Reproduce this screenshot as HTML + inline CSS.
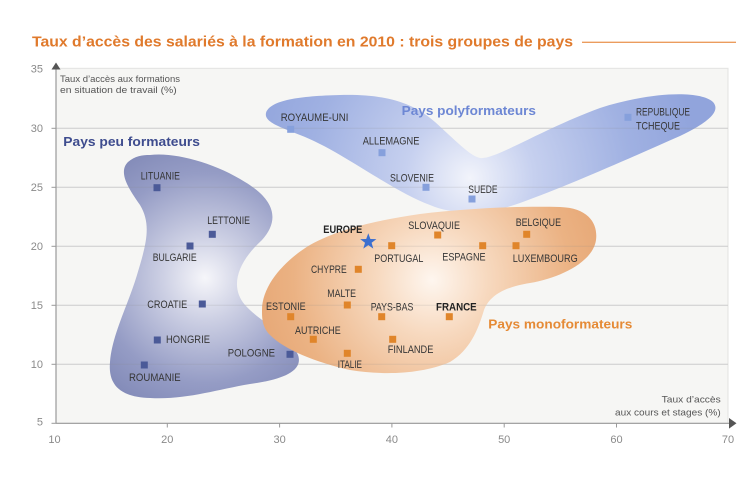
<!DOCTYPE html>
<html>
<head>
<meta charset="utf-8">
<style>
  html, body { margin: 0; padding: 0; background: #ffffff; }
  body { width: 749px; height: 500px; overflow: hidden; }
  svg { display: block; }
  text { font-family: "Liberation Sans", "DejaVu Sans", sans-serif; }
  .lbl { font-size: 10.8px; fill: #363636; }
  .tick { font-size: 11px; fill: #8a8a8a; }
  .ax { font-size: 9.5px; fill: #555; }
</style>
</head>
<body>
<svg width="749" height="500" viewBox="0 0 749 500" xmlns="http://www.w3.org/2000/svg">
  <defs>
    <radialGradient id="gDark" gradientUnits="userSpaceOnUse" cx="205" cy="278" r="140">
      <stop offset="0" stop-color="#f6f6fa"/>
      <stop offset="0.3" stop-color="#cdd0e4"/>
      <stop offset="0.75" stop-color="#959cc5"/>
      <stop offset="1" stop-color="#848cb9"/>
    </radialGradient>
    <radialGradient id="gBlue" gradientUnits="userSpaceOnUse" cx="470" cy="178" r="230">
      <stop offset="0" stop-color="#f2f4fb"/>
      <stop offset="0.28" stop-color="#c6d0ef"/>
      <stop offset="0.7" stop-color="#a0b1e2"/>
      <stop offset="1" stop-color="#91a4dc"/>
    </radialGradient>
    <radialGradient id="gOrange" gradientUnits="userSpaceOnUse" cx="432" cy="280" r="185">
      <stop offset="0" stop-color="#fef6ef"/>
      <stop offset="0.3" stop-color="#f7d9bf"/>
      <stop offset="0.75" stop-color="#ebb283"/>
      <stop offset="1" stop-color="#e6a674"/>
    </radialGradient>
  </defs>

  <!-- Title -->
  <text x="32" y="46.5" font-size="14.5" font-weight="bold" fill="#e07a2c" textLength="541" lengthAdjust="spacingAndGlyphs">Taux d’accès des salariés à la formation en 2010 : trois groupes de pays</text>
  <line x1="582" y1="42.3" x2="736" y2="42.3" stroke="#eb9c5e" stroke-width="1.4"/>

  <!-- Plot panel -->
  <rect x="56" y="68.3" width="672" height="355" fill="#f6f6f4" stroke="#e3e3e1" stroke-width="1"/>

  <!-- Grid -->
  <g stroke="#dcdcdc" stroke-width="1">
    <line x1="56" y1="128.3" x2="728" y2="128.3"/>
    <line x1="56" y1="187.3" x2="728" y2="187.3"/>
    <line x1="56" y1="246.3" x2="728" y2="246.3"/>
    <line x1="56" y1="305.3" x2="728" y2="305.3"/>
    <line x1="56" y1="364.3" x2="728" y2="364.3"/>
  </g>

  <!-- Blobs -->
  <path fill="url(#gDark)" d="M 150,155
    C 175,152 215,163 245,182
    C 275,200 280,220 262,240
    C 240,260 228,285 245,305
    C 260,322 290,335 298,355
    C 304,372 280,380 250,384
    C 215,390 185,400 150,398
    C 120,397 108,385 110,362
    C 112,335 128,305 137,275
    C 146,245 152,225 140,205
    C 128,188 118,172 128,162
    C 135,156 142,155 150,155 Z"/>

  <path fill="url(#gBlue)" d="M 266,113
    C 270,100 300,96 340,95
    C 380,94 410,100 435,122
    C 455,140 470,156 480,158
    C 495,160 540,130 600,108
    C 650,92 700,90 713,102
    C 722,112 705,124 680,136
    C 630,158 570,185 520,203
    C 490,214 455,216 430,205
    C 390,190 340,150 300,135
    C 280,127 264,122 266,113 Z"/>

  <path fill="url(#gOrange)" d="M 262,310
    C 262,285 285,260 310,245
    C 340,228 380,220 420,214
    C 470,208 520,206 560,207
    C 590,208 598,225 596,240
    C 593,262 560,278 530,283
    C 505,287 490,295 484,310
    C 478,330 470,350 450,362
    C 420,375 380,375 350,370
    C 315,362 285,350 270,335
    C 262,327 262,318 262,310 Z"/>

  <!-- faint grid over blobs -->
  <g stroke="#8a8a8a" stroke-opacity="0.18" stroke-width="1">
    <line x1="56" y1="128.3" x2="728" y2="128.3"/>
    <line x1="56" y1="187.3" x2="728" y2="187.3"/>
    <line x1="56" y1="246.3" x2="728" y2="246.3"/>
    <line x1="56" y1="305.3" x2="728" y2="305.3"/>
    <line x1="56" y1="364.3" x2="728" y2="364.3"/>
  </g>

  <!-- Axes -->
  <line x1="56" y1="423.3" x2="56" y2="68" stroke="#9a9a9a" stroke-width="1.2"/>
  <line x1="56" y1="423.3" x2="729" y2="423.3" stroke="#9a9a9a" stroke-width="1.2"/>
  <polygon points="51.5,69.5 60.5,69.5 56,62.5" fill="#555"/>
  <polygon points="729,418 736.5,423.3 729,428.6" fill="#555"/>

  <!-- Y ticks -->
  <g stroke="#9a9a9a" stroke-width="1">
    <line x1="51.5" y1="423.3" x2="56" y2="423.3"/>
    <line x1="51.5" y1="364.3" x2="56" y2="364.3"/>
    <line x1="51.5" y1="305.3" x2="56" y2="305.3"/>
    <line x1="51.5" y1="246.3" x2="56" y2="246.3"/>
    <line x1="51.5" y1="187.3" x2="56" y2="187.3"/>
    <line x1="51.5" y1="128.3" x2="56" y2="128.3"/>
  </g>
  <g class="tick" text-anchor="end">
    <text x="43" y="425.5">5</text>
    <text x="43" y="368">10</text>
    <text x="43" y="309">15</text>
    <text x="43" y="250">20</text>
    <text x="43" y="191">25</text>
    <text x="43" y="132">30</text>
    <text x="43" y="72.5">35</text>
  </g>

  <!-- X ticks -->
  <g stroke="#9a9a9a" stroke-width="1">
    <line x1="167.3" y1="423.3" x2="167.3" y2="427.5"/>
    <line x1="279.6" y1="423.3" x2="279.6" y2="427.5"/>
    <line x1="391.9" y1="423.3" x2="391.9" y2="427.5"/>
    <line x1="504.2" y1="423.3" x2="504.2" y2="427.5"/>
    <line x1="616.5" y1="423.3" x2="616.5" y2="427.5"/>
  </g>
  <g class="tick" text-anchor="middle">
    <text x="54.5" y="443">10</text>
    <text x="167.3" y="443">20</text>
    <text x="279.6" y="443">30</text>
    <text x="391.9" y="443">40</text>
    <text x="504.2" y="443">50</text>
    <text x="616.5" y="443">60</text>
    <text x="728" y="443">70</text>
  </g>

  <!-- Axis titles -->
  <text class="ax" x="60" y="82" textLength="120" lengthAdjust="spacingAndGlyphs">Taux d’accès aux formations</text>
  <text class="ax" x="60" y="93" textLength="116.7" lengthAdjust="spacingAndGlyphs">en situation de travail (%)</text>
  <text class="ax" x="661.7" y="402.5" textLength="59" lengthAdjust="spacingAndGlyphs">Taux d’accès</text>
  <text class="ax" x="615" y="415.5" textLength="105.7" lengthAdjust="spacingAndGlyphs">aux cours et stages (%)</text>

  <!-- Group titles -->
  <text x="63.3" y="146" font-size="13" font-weight="bold" fill="#3e4c8e" textLength="136.7" lengthAdjust="spacingAndGlyphs">Pays peu formateurs</text>
  <text x="401.7" y="115" font-size="13" font-weight="bold" fill="#6d87d4" textLength="134.3" lengthAdjust="spacingAndGlyphs">Pays polyformateurs</text>
  <text x="488.3" y="328.5" font-size="13" font-weight="bold" fill="#e58a35" textLength="144" lengthAdjust="spacingAndGlyphs">Pays monoformateurs</text>

  <!-- Markers: dark blue -->
  <g fill="#4b5a98">
    <rect x="153.5" y="184.2" width="7" height="7"/>
    <rect x="208.8" y="230.8" width="7" height="7"/>
    <rect x="186.5" y="242.5" width="7" height="7"/>
    <rect x="198.8" y="300.5" width="7" height="7"/>
    <rect x="153.8" y="336.5" width="7" height="7"/>
    <rect x="140.8" y="361.5" width="7" height="7"/>
    <rect x="286.5" y="350.8" width="7" height="7"/>
  </g>
  <!-- Markers: light blue -->
  <g fill="#86a0dc">
    <rect x="287.2" y="125.8" width="7" height="7"/>
    <rect x="378.5" y="149.2" width="7" height="7"/>
    <rect x="422.5" y="183.8" width="7" height="7"/>
    <rect x="468.5" y="195.5" width="7" height="7"/>
    <rect x="624.5" y="113.8" width="7" height="7"/>
  </g>
  <!-- Markers: orange -->
  <g fill="#e0852a">
    <rect x="388.2" y="242.2" width="7" height="7"/>
    <rect x="434.2" y="231.5" width="7" height="7"/>
    <rect x="479.2" y="242.2" width="7" height="7"/>
    <rect x="523.2" y="230.8" width="7" height="7"/>
    <rect x="512.5" y="242.2" width="7" height="7"/>
    <rect x="354.8" y="265.8" width="7" height="7"/>
    <rect x="343.8" y="301.5" width="7" height="7"/>
    <rect x="287.2" y="313.2" width="7" height="7"/>
    <rect x="378.2" y="313.2" width="7" height="7"/>
    <rect x="445.8" y="313.2" width="7" height="7"/>
    <rect x="309.8" y="335.8" width="7" height="7"/>
    <rect x="389.2" y="335.8" width="7" height="7"/>
    <rect x="343.8" y="349.8" width="7" height="7"/>
  </g>
  <!-- Europe star -->
  <polygon fill="#3c6fcf" points="368.3,233.2 370.4,239 376.4,239.1 371.6,242.8 373.3,248.6 368.3,245.1 363.3,248.6 365,242.8 360.2,239.1 366.2,239"/>

  <!-- Labels: peu formateurs -->
  <g class="lbl">
    <text x="140.7" y="179.6" textLength="39.3" lengthAdjust="spacingAndGlyphs">LITUANIE</text>
    <text x="207.3" y="223.9" textLength="42.7" lengthAdjust="spacingAndGlyphs">LETTONIE</text>
    <text x="152.7" y="261.2" textLength="44" lengthAdjust="spacingAndGlyphs">BULGARIE</text>
    <text x="147.3" y="308.2" textLength="40" lengthAdjust="spacingAndGlyphs">CROATIE</text>
    <text x="166" y="342.9" textLength="44" lengthAdjust="spacingAndGlyphs">HONGRIE</text>
    <text x="129" y="381.2" textLength="51.7" lengthAdjust="spacingAndGlyphs">ROUMANIE</text>
    <text x="227.7" y="356.6" textLength="47.3" lengthAdjust="spacingAndGlyphs">POLOGNE</text>

    <!-- polyformateurs -->
    <text x="280.7" y="121.2" textLength="67.7" lengthAdjust="spacingAndGlyphs">ROYAUME-UNI</text>
    <text x="362.7" y="144.6" textLength="56.7" lengthAdjust="spacingAndGlyphs">ALLEMAGNE</text>
    <text x="390" y="181.6" textLength="44" lengthAdjust="spacingAndGlyphs">SLOVENIE</text>
    <text x="468.3" y="193.2" textLength="29.3" lengthAdjust="spacingAndGlyphs">SUEDE</text>
    <text x="636" y="115.6" textLength="54" lengthAdjust="spacingAndGlyphs">REPUBLIQUE</text>
    <text x="636" y="129.6" textLength="44" lengthAdjust="spacingAndGlyphs">TCHEQUE</text>

    <!-- monoformateurs -->
    <text x="323.3" y="233.2" textLength="39" lengthAdjust="spacingAndGlyphs" font-weight="bold" fill="#222">EUROPE</text>
    <text x="408.3" y="228.9" textLength="51.7" lengthAdjust="spacingAndGlyphs">SLOVAQUIE</text>
    <text x="515.7" y="226.2" textLength="45.3" lengthAdjust="spacingAndGlyphs">BELGIQUE</text>
    <text x="374.3" y="262.2" textLength="49" lengthAdjust="spacingAndGlyphs">PORTUGAL</text>
    <text x="442.3" y="260.6" textLength="43.3" lengthAdjust="spacingAndGlyphs">ESPAGNE</text>
    <text x="512.7" y="262.2" textLength="65" lengthAdjust="spacingAndGlyphs">LUXEMBOURG</text>
    <text x="311" y="273.2" textLength="35.7" lengthAdjust="spacingAndGlyphs">CHYPRE</text>
    <text x="327.3" y="297.2" textLength="28.7" lengthAdjust="spacingAndGlyphs">MALTE</text>
    <text x="266" y="309.9" textLength="39.7" lengthAdjust="spacingAndGlyphs">ESTONIE</text>
    <text x="370.7" y="310.6" textLength="42.7" lengthAdjust="spacingAndGlyphs">PAYS-BAS</text>
    <text x="436" y="310.6" textLength="40.7" lengthAdjust="spacingAndGlyphs" font-weight="bold" fill="#222">FRANCE</text>
    <text x="295" y="333.9" textLength="45.7" lengthAdjust="spacingAndGlyphs">AUTRICHE</text>
    <text x="387.7" y="353.2" textLength="45.7" lengthAdjust="spacingAndGlyphs">FINLANDE</text>
    <text x="337.7" y="368.2" textLength="24.3" lengthAdjust="spacingAndGlyphs">ITALIE</text>
  </g>
</svg>
</body>
</html>
